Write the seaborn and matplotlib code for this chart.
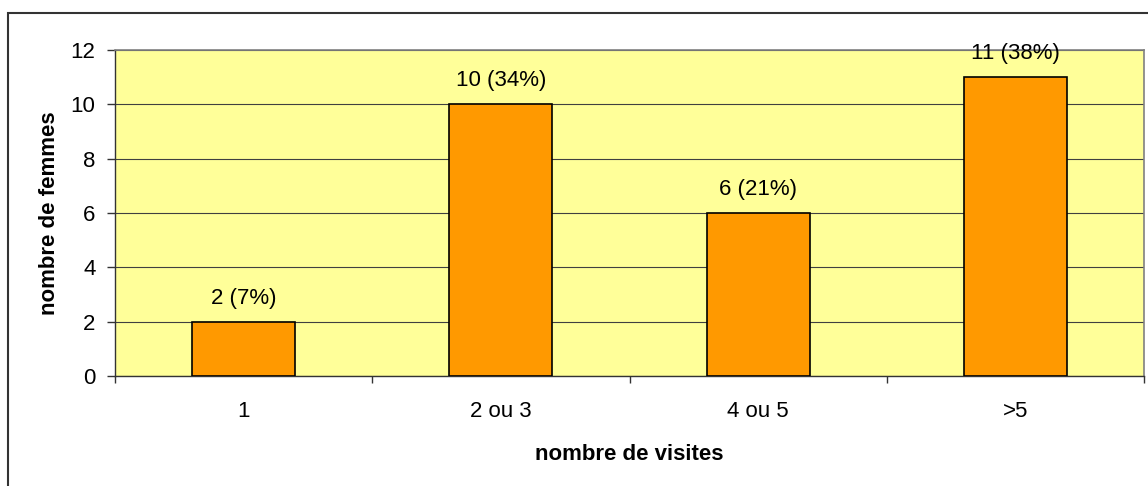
import matplotlib
matplotlib.use("Agg")
import matplotlib.pyplot as plt
import matplotlib.patches as mpatches
import seaborn as sns
import pandas as pd

categories = ["1", "2 ou 3", "4 ou 5", ">5"]
counts = [2, 10, 6, 11]

total = sum(counts)
labels = [f"{c} ({round(100 * c / total)}%)" for c in counts]

plt.rcParams["font.family"] = ["Liberation Sans", "DejaVu Sans"]

fig = plt.figure(figsize=(11.48, 4.86), dpi=100)
ax = fig.add_axes([115 / 1148, 110 / 486, (1144 - 115) / 1148, (376 - 50) / 486])

df = pd.DataFrame({"visites": categories, "femmes": counts})
sns.barplot(data=df, x="visites", y="femmes", color="#FF9900", width=0.4,
            edgecolor="black", linewidth=1.2, saturation=1, ax=ax, zorder=3)

ax.set_facecolor("#FFFF99")
ax.set_ylim(0, 12)
ax.set_xlim(-0.5, len(categories) - 0.5)
ax.set_yticks(range(0, 13, 2))
ax.yaxis.grid(True, color="#404040", linewidth=0.8, zorder=0)
ax.set_axisbelow(True)

ax.tick_params(axis="y", length=6, width=1, pad=8, labelsize=16, color="#333333")
ax.tick_params(axis="x", which="major", length=0, pad=18, labelsize=16)
ax.set_xticks([i - 0.5 for i in range(len(categories) + 1)], minor=True)
ax.tick_params(axis="x", which="minor", length=5, width=1, color="#333333")

for name in ["top", "right"]:
    ax.spines[name].set_color("#808080")
    ax.spines[name].set_linewidth(1.2)
for name in ["left", "bottom"]:
    ax.spines[name].set_color("#333333")
    ax.spines[name].set_linewidth(1)

for i, (val, lab) in enumerate(zip(counts, labels)):
    ax.annotate(lab, (i, val), xytext=(0, 13), textcoords="offset points",
                ha="center", va="baseline", fontsize=16, clip_on=False)

ax.set_xlabel("nombre de visites", fontsize=16, fontweight="bold", labelpad=16)
ax.set_ylabel("nombre de femmes", fontsize=16, fontweight="bold", labelpad=8)

frame = mpatches.Rectangle((8 / 1148, -0.2), 1.2, (486 - 13) / 486 + 0.2,
                           transform=fig.transFigure, fill=False,
                           edgecolor="#333333", linewidth=1.5)
fig.patches.append(frame)

fig.savefig("out.png", dpi=100)
